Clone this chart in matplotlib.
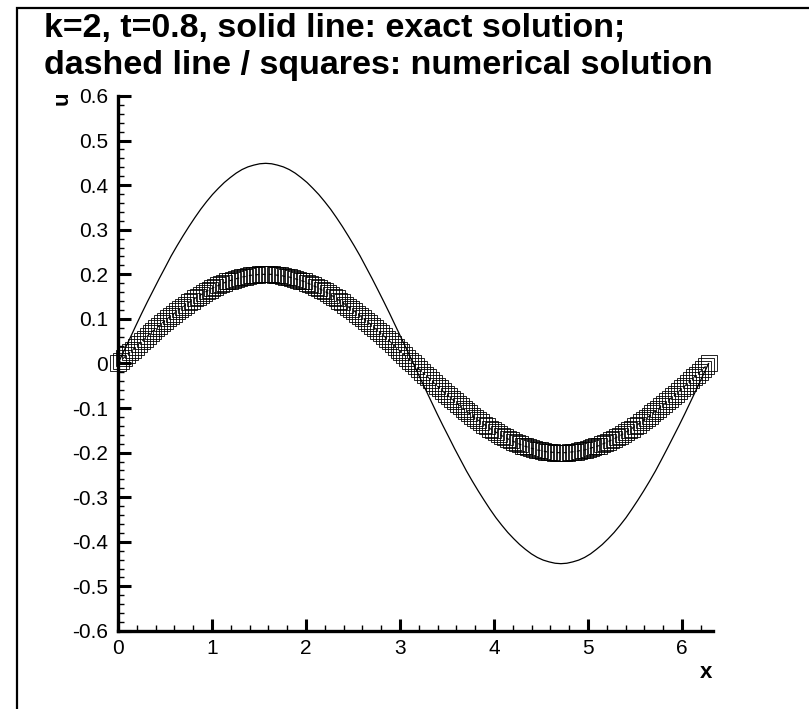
import matplotlib
matplotlib.use("Agg")
import matplotlib.pyplot as plt
from matplotlib.patches import Rectangle
from matplotlib.ticker import MultipleLocator

x_exact = [0.000, 0.063, 0.126, 0.188, 0.251, 0.314, 0.377, 0.440, 0.503, 0.565,
           0.628, 0.691, 0.754, 0.817, 0.880, 0.942, 1.005, 1.068, 1.131, 1.194,
           1.257, 1.319, 1.382, 1.445, 1.508, 1.571, 1.634, 1.696, 1.759, 1.822,
           1.885, 1.948, 2.011, 2.073, 2.136, 2.199, 2.262, 2.325, 2.388, 2.450,
           2.513, 2.576, 2.639, 2.702, 2.765, 2.827, 2.890, 2.953, 3.016, 3.079,
           3.142, 3.204, 3.267, 3.330, 3.393, 3.456, 3.519, 3.581, 3.644, 3.707,
           3.770, 3.833, 3.896, 3.958, 4.021, 4.084, 4.147, 4.210, 4.273, 4.335,
           4.398, 4.461, 4.524, 4.587, 4.650, 4.712, 4.775, 4.838, 4.901, 4.964,
           5.027, 5.089, 5.152, 5.215, 5.278, 5.341, 5.404, 5.466, 5.529, 5.592,
           5.655, 5.718, 5.781, 5.843, 5.906, 5.969, 6.032, 6.095, 6.158, 6.220,
           6.283]

u_exact = [0.000, 0.028, 0.056, 0.084, 0.112, 0.139, 0.165, 0.191, 0.216, 0.241,
           0.264, 0.286, 0.307, 0.327, 0.346, 0.363, 0.379, 0.393, 0.406, 0.417,
           0.427, 0.435, 0.441, 0.445, 0.448, 0.449, 0.448, 0.445, 0.441, 0.435,
           0.427, 0.417, 0.406, 0.393, 0.379, 0.363, 0.346, 0.327, 0.307, 0.286,
           0.264, 0.241, 0.216, 0.191, 0.165, 0.139, 0.112, 0.084, 0.056, 0.028,
           0.000, -0.028, -0.056, -0.084, -0.112, -0.139, -0.165, -0.191, -0.216, -0.241,
           -0.264, -0.286, -0.307, -0.327, -0.346, -0.363, -0.379, -0.393, -0.406, -0.417,
           -0.427, -0.435, -0.441, -0.445, -0.448, -0.449, -0.448, -0.445, -0.441, -0.435,
           -0.427, -0.417, -0.406, -0.393, -0.379, -0.363, -0.346, -0.327, -0.307, -0.286,
           -0.264, -0.241, -0.216, -0.191, -0.165, -0.139, -0.112, -0.084, -0.056, -0.028,
           0.000]

x_numerical = [0.000, 0.031, 0.063, 0.094, 0.126, 0.157, 0.188, 0.220, 0.251, 0.283,
               0.314, 0.346, 0.377, 0.408, 0.440, 0.471, 0.503, 0.534, 0.565, 0.597,
               0.628, 0.660, 0.691, 0.723, 0.754, 0.785, 0.817, 0.848, 0.880, 0.911,
               0.942, 0.974, 1.005, 1.037, 1.068, 1.100, 1.131, 1.162, 1.194, 1.225,
               1.257, 1.288, 1.319, 1.351, 1.382, 1.414, 1.445, 1.477, 1.508, 1.539,
               1.571, 1.602, 1.634, 1.665, 1.696, 1.728, 1.759, 1.791, 1.822, 1.854,
               1.885, 1.916, 1.948, 1.979, 2.011, 2.042, 2.073, 2.105, 2.136, 2.168,
               2.199, 2.231, 2.262, 2.293, 2.325, 2.356, 2.388, 2.419, 2.450, 2.482,
               2.513, 2.545, 2.576, 2.608, 2.639, 2.670, 2.702, 2.733, 2.765, 2.796,
               2.827, 2.859, 2.890, 2.922, 2.953, 2.985, 3.016, 3.047, 3.079, 3.110,
               3.142, 3.173, 3.204, 3.236, 3.267, 3.299, 3.330, 3.362, 3.393, 3.424,
               3.456, 3.487, 3.519, 3.550, 3.581, 3.613, 3.644, 3.676, 3.707, 3.738,
               3.770, 3.801, 3.833, 3.864, 3.896, 3.927, 3.958, 3.990, 4.021, 4.053,
               4.084, 4.115, 4.147, 4.178, 4.210, 4.241, 4.273, 4.304, 4.335, 4.367,
               4.398, 4.430, 4.461, 4.492, 4.524, 4.555, 4.587, 4.618, 4.650, 4.681,
               4.712, 4.744, 4.775, 4.807, 4.838, 4.869, 4.901, 4.932, 4.964, 4.995,
               5.027, 5.058, 5.089, 5.121, 5.152, 5.184, 5.215, 5.246, 5.278, 5.309,
               5.341, 5.372, 5.404, 5.435, 5.466, 5.498, 5.529, 5.561, 5.592, 5.623,
               5.655, 5.686, 5.718, 5.749, 5.781, 5.812, 5.843, 5.875, 5.906, 5.938,
               5.969, 6.000, 6.032, 6.063, 6.095, 6.126, 6.158, 6.189, 6.220, 6.252,
               6.283]

u_numerical = [0.000, 0.006, 0.013, 0.019, 0.025, 0.031, 0.037, 0.044, 0.050, 0.056,
               0.062, 0.068, 0.074, 0.079, 0.085, 0.091, 0.096, 0.102, 0.107, 0.112,
               0.118, 0.123, 0.127, 0.132, 0.137, 0.141, 0.146, 0.150, 0.154, 0.158,
               0.162, 0.165, 0.169, 0.172, 0.175, 0.178, 0.181, 0.184, 0.186, 0.188,
               0.190, 0.192, 0.194, 0.195, 0.196, 0.198, 0.198, 0.199, 0.200, 0.200,
               0.200, 0.200, 0.200, 0.199, 0.198, 0.198, 0.196, 0.195, 0.194, 0.192,
               0.190, 0.188, 0.186, 0.184, 0.181, 0.178, 0.175, 0.172, 0.169, 0.165,
               0.162, 0.158, 0.154, 0.150, 0.146, 0.141, 0.137, 0.132, 0.127, 0.123,
               0.118, 0.112, 0.107, 0.102, 0.096, 0.091, 0.085, 0.079, 0.074, 0.068,
               0.062, 0.056, 0.050, 0.044, 0.037, 0.031, 0.025, 0.019, 0.013, 0.006,
               0.000, -0.006, -0.013, -0.019, -0.025, -0.031, -0.037, -0.044, -0.050, -0.056,
               -0.062, -0.068, -0.074, -0.079, -0.085, -0.091, -0.096, -0.102, -0.107, -0.112,
               -0.118, -0.123, -0.127, -0.132, -0.137, -0.141, -0.146, -0.150, -0.154, -0.158,
               -0.162, -0.165, -0.169, -0.172, -0.175, -0.178, -0.181, -0.184, -0.186, -0.188,
               -0.190, -0.192, -0.194, -0.195, -0.196, -0.198, -0.198, -0.199, -0.200, -0.200,
               -0.200, -0.200, -0.200, -0.199, -0.198, -0.198, -0.196, -0.195, -0.194, -0.192,
               -0.190, -0.188, -0.186, -0.184, -0.181, -0.178, -0.175, -0.172, -0.169, -0.165,
               -0.162, -0.158, -0.154, -0.150, -0.146, -0.141, -0.137, -0.132, -0.127, -0.123,
               -0.118, -0.112, -0.107, -0.102, -0.096, -0.091, -0.085, -0.079, -0.074, -0.068,
               -0.062, -0.056, -0.050, -0.044, -0.037, -0.031, -0.025, -0.019, -0.013, -0.006,
               0.000]

x_ticks = [0, 1, 2, 3, 4, 5, 6]
y_ticks = [-0.6, -0.5, -0.4, -0.3, -0.2, -0.1, 0, 0.1, 0.2, 0.3, 0.4, 0.5, 0.6]
y_tick_labels = ["-0.6", "-0.5", "-0.4", "-0.3", "-0.2", "-0.1", "0",
                 "0.1", "0.2", "0.3", "0.4", "0.5", "0.6"]
title_lines = ["k=2, t=0.8, solid line: exact solution;",
               "dashed line / squares: numerical solution"]

plt.rcParams['font.family'] = ['Liberation Sans', 'DejaVu Sans']

W, H = 809, 709
fig = plt.figure(figsize=(W / 100, H / 100), dpi=100)
fig.patch.set_facecolor('white')

# outer frame (partially off-canvas)
fig.patches.append(Rectangle((17 / W, -0.1), 1.2, 1 - 8 / H + 0.1,
                             transform=fig.transFigure, fill=False,
                             edgecolor='black', linewidth=1.6))

ax = fig.add_axes([118 / W, 1 - 631 / H, (713 - 118) / W, (631 - 96) / H])
ax.plot(x_exact, u_exact, color='black', linewidth=0.9, clip_on=False, zorder=3)
ax.plot(x_numerical, u_numerical, color='black', linewidth=0.8,
        linestyle=(0, (3, 3)), marker='s', markersize=11.5,
        markerfacecolor='none', markeredgecolor='black',
        markeredgewidth=0.6, clip_on=False, zorder=2)

ax.set_xlim(0, 6.33)
ax.set_ylim(-0.6, 0.6)
ax.set_xticks(x_ticks)
ax.set_xticklabels([str(v) for v in x_ticks])
ax.set_yticks(y_ticks)
ax.set_yticklabels(y_tick_labels)
ax.xaxis.set_minor_locator(MultipleLocator(0.2))
ax.yaxis.set_minor_locator(MultipleLocator(0.02))
for s in ['top', 'right']:
    ax.spines[s].set_visible(False)
for s in ['left', 'bottom']:
    ax.spines[s].set_linewidth(2.4)
ax.tick_params(which='major', direction='in', length=9, width=2.2,
               labelsize=15, pad=7)
ax.tick_params(which='minor', direction='in', length=4.5, width=1.0)
ax.tick_params(axis='x', which='major', pad=6)

fig.text(62 / W, 1 - 98 / H, "u", rotation=90, ha='center', va='center',
         fontsize=16, fontweight='bold')
fig.text(706 / W, 1 - 672 / H, "x", ha='center', va='center',
         fontsize=16, fontweight='bold')

fig.text(44 / W, 1 - 37 / H, title_lines[0], ha='left', va='baseline',
         fontsize=24.5, fontweight='bold')
fig.text(44 / W, 1 - 74 / H, title_lines[1], ha='left', va='baseline',
         fontsize=24.5, fontweight='bold')

fig.savefig("out.png", dpi=100)
